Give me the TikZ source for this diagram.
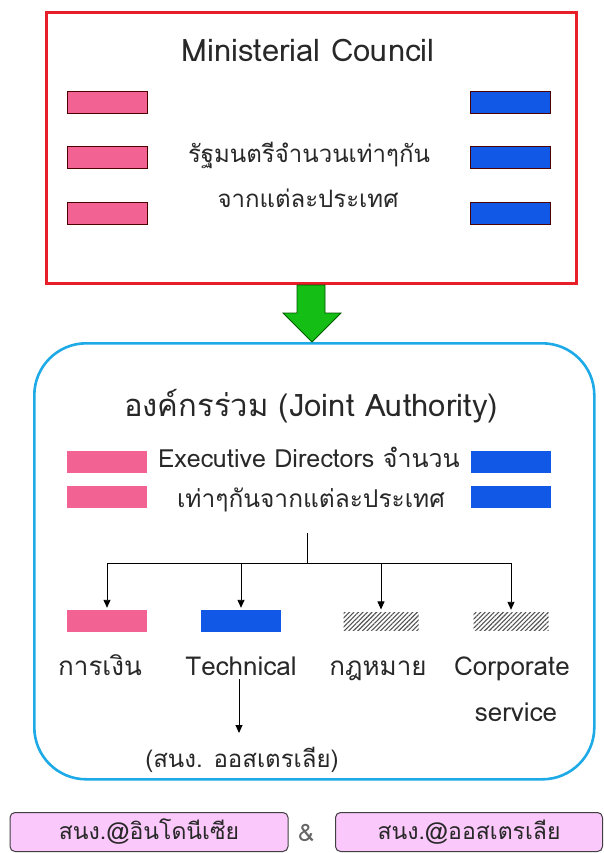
\documentclass[tikz,border=0pt]{standalone}
\usepackage{fontspec}
\setmainfont[Script=Thai]{Loma}
\usetikzlibrary{patterns.meta,arrows.meta}
\definecolor{pinkc}{RGB}{242,98,146}
\definecolor{bluec}{RGB}{18,88,230}
\definecolor{redc}{RGB}{232,30,40}
\definecolor{cyanc}{RGB}{30,170,230}
\definecolor{greenc}{RGB}{20,190,20}
\definecolor{lilac}{RGB}{250,200,250}
\definecolor{inkc}{RGB}{40,40,40}
\tikzset{
  pinkbar/.style={fill=pinkc, minimum width=80pt, minimum height=22pt, inner sep=0pt},
  bluebar/.style={fill=bluec, minimum width=80pt, minimum height=22pt, inner sep=0pt},
  edge1/.style={draw=black!70!red, line width=0.8pt},
  hatchbar/.style={pattern={Lines[angle=45,distance=3.2pt,line width=1.1pt]}, pattern color=inkc!80, minimum width=75pt, minimum height=18pt, inner sep=0pt},
  txt/.style={inner sep=0pt, text=inkc},
  lbl/.style={txt, anchor=base, font=\fontsize{26}{30}\selectfont},
  arr/.style={draw=black, line width=0.9pt, -{Triangle[width=7pt,length=8pt]}},
  basebox/.style={draw=black!75, line width=1pt, fill=lilac, rounded corners=5pt, inner sep=0pt, text=inkc}
}
\begin{document}
\begin{tikzpicture}[x=1pt,y=-1pt]
\useasboundingbox[fill=white] (0,0) rectangle (604,853);
% Ministerial council box
\node[draw=redc, line width=3pt, minimum width=530pt, minimum height=271pt, anchor=north west] (mc) at (45,11) {};
\node[txt, font=\fontsize{31}{36}\selectfont] (mctitle) at (308,50) {Ministerial Council};
\node[pinkbar, edge1] (mp1) at (107,102) {};
\node[pinkbar, edge1] (mp2) at (107,157) {};
\node[pinkbar, edge1] (mp3) at (107,213) {};
\node[bluebar, edge1] (mb1) at (510,102) {};
\node[bluebar, edge1] (mb2) at (510,157) {};
\node[bluebar, edge1] (mb3) at (510,213) {};
\node[txt, font=\fontsize{24}{28}\selectfont] (mcl1) at (309,155) {รัฐมนตรีจำนวนเท่าๆกัน};
\node[txt, font=\fontsize{24}{28}\selectfont] (mcl2) at (308,198) {จากแต่ละประเทศ};
% Joint authority box
\node[draw=cyanc, line width=2.6pt, rounded corners=52pt, minimum width=560pt, minimum height=436pt, anchor=north west] (ja) at (33,342) {};
% green arrow from mc to ja
\draw[fill=greenc, draw=green!35!black, line width=0.8pt]
  (297,285) -- (325,285) -- (325,313) -- (341,313) -- (ja.north -| 312,0) -- (283,313) -- (297,313) -- cycle;
\node[txt, font=\fontsize{31}{36}\selectfont] (jatitle) at (311,406) {องค์กรร่วม (Joint Authority)};
\node[pinkbar] (jp1) at (107,462) {};
\node[pinkbar] (jp2) at (107,497) {};
\node[bluebar] (jb1) at (511,462) {};
\node[bluebar] (jb2) at (511,497) {};
\node[txt, font=\fontsize{25}{29}\selectfont] (exec1) at (309,457) {Executive Directors จำนวน};
\node[txt, font=\fontsize{24.5}{29}\selectfont] (exec2) at (311,500) {เท่าๆกันจากแต่ละประเทศ};
% tree
\coordinate (ttop) at (307,533);
\coordinate (hub) at (307,563);
\node[pinkbar] (fin) at (107,621) {};
\node[bluebar] (tech) at (241,621) {};
\node[hatchbar] (law) at (381,621) {};
\node[hatchbar] (corp) at (511,621) {};
\draw[line width=0.9pt] (ttop) -- (hub);
\draw[arr, shorten >=2pt] (hub) -| (fin.north);
\draw[arr, shorten >=2pt] (hub) -| (tech.north);
\draw[arr, shorten >=2pt] (hub) -| (law.north);
\draw[arr, shorten >=2pt] (hub) -| (corp.north);
\node[lbl] (finl) at (100,675) {การเงิน};
\node[lbl] (techl) at (241,675) {Technical};
\node[lbl] (lawl) at (378,675) {กฎหมาย};
\node[lbl] (corpl) at (512,675) {Corporate};
\node[lbl] (corpl2) at (516,721) {service};
\node[txt, font=\fontsize{24}{28}\selectfont] (aus) at (242,760) {(สนง. ออสเตรเลีย)};
\coordinate (techdrop) at (239,679);
\draw[arr] (techdrop) -- (techdrop |- 0,733);
% bottom boxes
\node[basebox, minimum width=278pt, minimum height=39pt, font=\fontsize{23}{27}\selectfont] (indo) at (149,832) {สนง.@อินโดนีเซีย};
\node[basebox, minimum width=267pt, minimum height=39pt, font=\fontsize{23}{27}\selectfont] (aust) at (469,832) {สนง.@ออสเตรเลีย};
\node[txt, text=black!60, font=\fontsize{24}{28}\selectfont] (amp) at (306,833) {\&};
\end{tikzpicture}
\end{document}
